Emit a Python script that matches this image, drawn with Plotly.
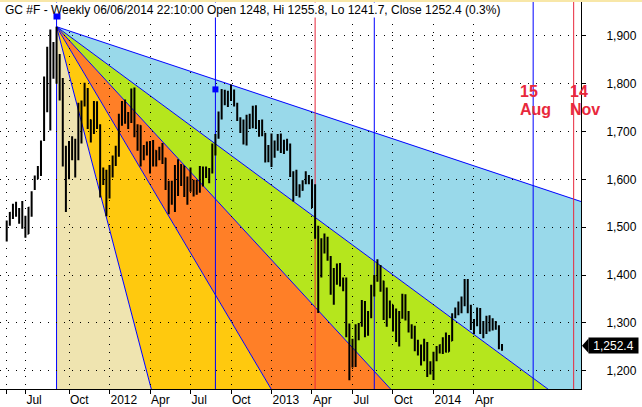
import pandas as pd
import numpy as np
import plotly.graph_objects as go

# ---------------- data (weekly GC #F bars) ----------------
first_bar = "2011-05-20"
opens = [1490,1510,1530,1542,1530,1538,1502,1486,1541,1580,1601,1625,1682,1745,1852,1828,1876,1856,1805,1657,
         1622,1648,1683,1642,1747,1756,1788,1724,1697,1746,1713,1598,1607,1566,1617,1631,1664,1733,1726,1725,
         1725,1774,1711,1712,1656,1662,1668,1632,1660,1642,1663,1644,1582,1591,1572,1622,1594,1628,1572,1604,
         1580,1592,1582,1620,1607,1620,1615,1671,1690,1737,1772,1773,1776,1781,1757,1724,1712,1677,1731,1714,
         1751,1712,1702,1696,1657,1656,1656,1662,1687,1658,1669,1667,1609,1572,1576,1578,1592,1607,1598,1581,
         1501,1406,1463,1470,1437,1364,1387,1393,1383,1387,1292,1234,1223,1277,1295,1322,1310,1313,1376,1396,
         1396,1387,1308,1332,1338,1310,1272,1315,1351,1316,1287,1287,1244,1250,1231,1235,1204,1212,1237,1248,
         1254,1264,1240,1263,1318,1323,1326,1340,1379,1334,1294,1303,1318,1293,1300,1302,1288,1294,1292,1248]
highs = [1514,1532,1549,1553,1540,1555,1524,1542,1575,1608,1628,1681,1815,1877,1913,1887,1919,1862,1812,1670,
         1680,1690,1685,1760,1765,1802,1791,1725,1764,1763,1715,1625,1620,1630,1650,1670,1737,1764,1767,1741,
         1790,1792,1715,1713,1672,1679,1680,1682,1661,1668,1676,1645,1597,1597,1630,1642,1632,1628,1606,1625,
         1599,1599,1628,1627,1627,1624,1675,1695,1742,1789,1787,1785,1798,1788,1760,1730,1725,1735,1737,1754,
         1755,1724,1725,1697,1672,1696,1681,1695,1696,1683,1685,1675,1617,1620,1590,1598,1617,1609,1600,1590,
         1503,1477,1487,1480,1440,1415,1424,1425,1395,1395,1299,1267,1297,1300,1348,1346,1325,1380,1400,1433,
         1421,1388,1374,1347,1338,1330,1325,1361,1360,1325,1297,1294,1265,1255,1267,1260,1220,1240,1252,1255,
         1270,1280,1275,1320,1332,1345,1355,1392,1392,1338,1308,1332,1331,1304,1315,1316,1310,1304,1295,1255.8]
lows = [1470,1503,1517,1522,1507,1497,1478,1486,1522,1578,1600,1607,1680,1740,1702,1810,1800,1765,1627,1532,
        1600,1640,1604,1640,1675,1752,1705,1677,1695,1705,1562,1588,1523,1560,1604,1628,1647,1712,1716,1705,
        1718,1688,1660,1627,1640,1650,1612,1627,1627,1640,1632,1578,1527,1547,1532,1565,1586,1563,1547,1574,
        1564,1568,1572,1585,1603,1592,1612,1650,1685,1725,1755,1751,1764,1752,1722,1697,1673,1671,1705,1707,
        1705,1689,1690,1635,1636,1626,1645,1660,1655,1653,1660,1605,1554,1565,1562,1576,1590,1590,1540,1476,
        1321,1395,1445,1430,1359,1338,1380,1376,1366,1270,1180,1207,1208,1264,1292,1270,1273,1310,1355,1386,
        1365,1306,1292,1310,1282,1260,1251,1309,1305,1280,1267,1241,1232,1211,1220,1187,1192,1181,1220,1236,
        1235,1238,1240,1262,1310,1316,1320,1335,1320,1285,1277,1293,1277,1268,1277,1282,1284,1286,1245,1241.7]
closes = [1510,1530,1542,1530,1538,1502,1486,1541,1570,1601,1625,1660,1745,1852,1828,1876,1856,1812,1657,1622,
          1636,1683,1642,1747,1756,1788,1724,1697,1746,1713,1598,1607,1566,1617,1631,1664,1733,1726,1725,1725,
          1774,1711,1712,1656,1662,1668,1632,1660,1642,1663,1644,1582,1591,1572,1622,1594,1628,1572,1604,1580,
          1592,1582,1620,1607,1620,1615,1671,1690,1737,1772,1773,1776,1781,1757,1724,1712,1677,1731,1714,1751,
          1712,1702,1696,1657,1656,1656,1662,1687,1658,1669,1667,1609,1572,1576,1578,1592,1607,1598,1581,1501,
          1406,1463,1470,1437,1364,1387,1393,1383,1387,1292,1234,1223,1277,1295,1322,1310,1313,1376,1396,1396,
          1387,1308,1332,1338,1310,1272,1315,1351,1316,1287,1287,1244,1250,1231,1235,1204,1212,1237,1248,1254,
          1264,1240,1263,1318,1323,1326,1340,1379,1334,1294,1303,1318,1293,1300,1302,1288,1294,1292,1250,1252.4]

tick_dates = ["2011-05-20", "2011-07-01", "2011-10-07", "2012-01-06", "2012-04-06", "2012-07-06", "2012-10-05",
              "2013-01-04", "2013-04-05", "2013-07-05", "2013-10-04", "2014-01-03", "2014-04-04"]
tick_labels = ["", "Jul", "Oct", "2012", "Apr", "Jul", "Oct", "2013", "Apr", "Jul", "Oct", "2014", "Apr"]
price_ticks = [1200, 1300, 1400, 1500, 1600, 1700, 1800, 1900]

# Gann-style fan from the top: price drop per week of each ray
fan_rates = [2.17, 4.80, 7.06, 10.99, 24.9]
fan_colors = ["#99D9EA", "#B5E61D", "#FF7F27", "#FFC90E", "#EFE4B0"]

vline_dates = ["2011-09-09", "2012-08-31", "2013-04-12", "2013-08-23", "2014-08-15", "2014-11-14"]
vline_colors = ["#0000FF", "#0000FF", "#E8283C", "#0000FF", "#0000FF", "#E8283C"]
event_labels = [("15", "Aug"), ("14", "Nov")]
event_dates = ["2014-08-15", "2014-11-14"]
event_shift = [-15, -6]

handle_dates = ["2011-09-09", "2012-08-31"]
handle_prices = [1940, 1788]

title_text = "GC #F - Weekly 06/06/2014 22:10:00 Open 1248, Hi 1255.8, Lo 1241.7, Close 1252.4 (0.3%)"

# ---------------- figure ----------------
W, H = 642, 407
ML, MR, MT, MB = 0, 61, 0, 16
PW, PH = W - ML - MR, H - MT - MB
Y_RANGE = [1161.95, 1974.8]
FONT = "Liberation Sans, Arial, sans-serif"

dates = pd.date_range(first_bar, periods=len(opens), freq="7D")

fig = go.Figure()
fig.add_trace(go.Ohlc(
    x=dates, open=opens, high=highs, low=lows, close=closes,
    increasing=dict(line=dict(color="black", width=2)),
    decreasing=dict(line=dict(color="black", width=2)),
    tickwidth=0.3, hoverinfo="skip", showlegend=False))

fig.add_trace(go.Scatter(
    x=pd.to_datetime(handle_dates[1:]), y=handle_prices[1:], mode="markers",
    marker=dict(symbol="square", size=6, color="#0000FF"),
    hoverinfo="skip", showlegend=False))

# fan regions
imax = int(np.argmax(highs))
o_date = dates[imax]
o_price = highs[imax]
far = pd.Timestamp("2016-06-01")
weeks = (far - o_date).days / 7.0
fmt = lambda d: pd.Timestamp(d).strftime("%Y-%m-%d")
ray_end = [o_price - r * weeks for r in fan_rates]

shapes = []
for i, col in enumerate(fan_colors):
    if i < len(fan_rates) - 1:
        path = (f"M {fmt(o_date)},{o_price} L {fmt(far)},{ray_end[i]} "
                f"L {fmt(far)},{ray_end[i+1]} Z")
    else:
        path = (f"M {fmt(o_date)},{o_price} L {fmt(far)},{ray_end[i]} "
                f"L {fmt(o_date)},{ray_end[i]} Z")
    shapes.append(dict(type="path", path=path, xref="x", yref="y",
                       fillcolor=col, line=dict(width=0), layer="below"))
for pe in ray_end:
    shapes.append(dict(type="line", xref="x", yref="y", x0=o_date, y0=o_price, x1=far, y1=pe,
                       line=dict(color="#0000FF", width=1), layer="below"))
for d, c in zip(vline_dates, vline_colors):
    shapes.append(dict(type="line", xref="x", yref="y", x0=d, x1=d, y0=Y_RANGE[0], y1=Y_RANGE[1],
                       line=dict(color=c, width=1), layer="below"))

# top pale strip
shapes.append(dict(type="rect", xref="paper", yref="paper", x0=0, x1=W / PW,
                   y0=1 - 2 / PH, y1=1, fillcolor="#F8E7A8", line=dict(width=0), layer="above"))

# last price marker (arrow part)
last = closes[-1]
px_per_usd = PH / (Y_RANGE[1] - Y_RANGE[0])
half = 7.3 / px_per_usd
shapes.append(dict(type="path", xref="paper", yref="y",
                   path=f"M {1 + 1/PW},{last} L {1 + 7.5/PW},{last + half} L {1 + 7.5/PW},{last - half} Z",
                   fillcolor="black", line=dict(width=0), layer="above"))

annotations = [
    dict(text=title_text, xref="paper", yref="paper", x=4 / PW, y=1 - 2 / PH, xanchor="left", yanchor="top",
         showarrow=False, bgcolor="white", borderpad=0, font=dict(family=FONT, size=12, color="black")),
    dict(text="", xref="x", yref="y", x=handle_dates[0], y=handle_prices[0], width=6, height=5,
         showarrow=False, bgcolor="#0000FF", borderpad=0),
    dict(text=f"{last:,.1f}", xref="paper", yref="y", x=1 + 7 / PW, y=last, xanchor="left", yanchor="middle",
         width=49, height=15, align="center",
         showarrow=False, bgcolor="black", borderpad=0, font=dict(family=FONT, size=12, color="white")),
]
for (a, b), d, sh in zip(event_labels, event_dates, event_shift):
    for txt, ypx in ((a, 92), (b, 110)):
        annotations.append(dict(text=f"<b>{txt}</b>", xref="x", yref="paper", x=d, y=1 - ypx / PH,
                                xanchor="left", yanchor="middle", xshift=sh, showarrow=False,
                                font=dict(family=FONT, size=16, color="#E8283C")))

fig.update_layout(
    width=W, height=H, margin=dict(l=ML, r=MR, t=MT, b=MB),
    paper_bgcolor="white", plot_bgcolor="white",
    shapes=shapes, annotations=annotations, hovermode=False, showlegend=False,
    font=dict(family=FONT, size=12, color="black"),
    xaxis=dict(type="date", range=["2011-05-04 22:00", "2014-11-30 12:00"],
               tickvals=tick_dates, ticktext=tick_labels, ticks="outside", ticklen=4,
               tickcolor="black", showline=True, linecolor="black", linewidth=1,
               showgrid=True, gridcolor="black", gridwidth=1, griddash="1px,7px",
               ticklabelposition="outside right", rangeslider=dict(visible=False),
               tickfont=dict(family=FONT, size=12, color="black"), zeroline=False, fixedrange=True),
    yaxis=dict(side="right", range=Y_RANGE, tickvals=price_ticks, tickformat=",",
               ticks="outside", ticklen=4, tickcolor="black", showline=True, linecolor="black",
               linewidth=1, showgrid=True, gridcolor="black", gridwidth=1, griddash="1px,7px",
               ticklabelstandoff=18, zeroline=False,
               tickfont=dict(family=FONT, size=12, color="black"), fixedrange=True),
)

fig.write_html("out.html", config={"displayModeBar": False},
               post_script="document.body.style.margin='0px';")
